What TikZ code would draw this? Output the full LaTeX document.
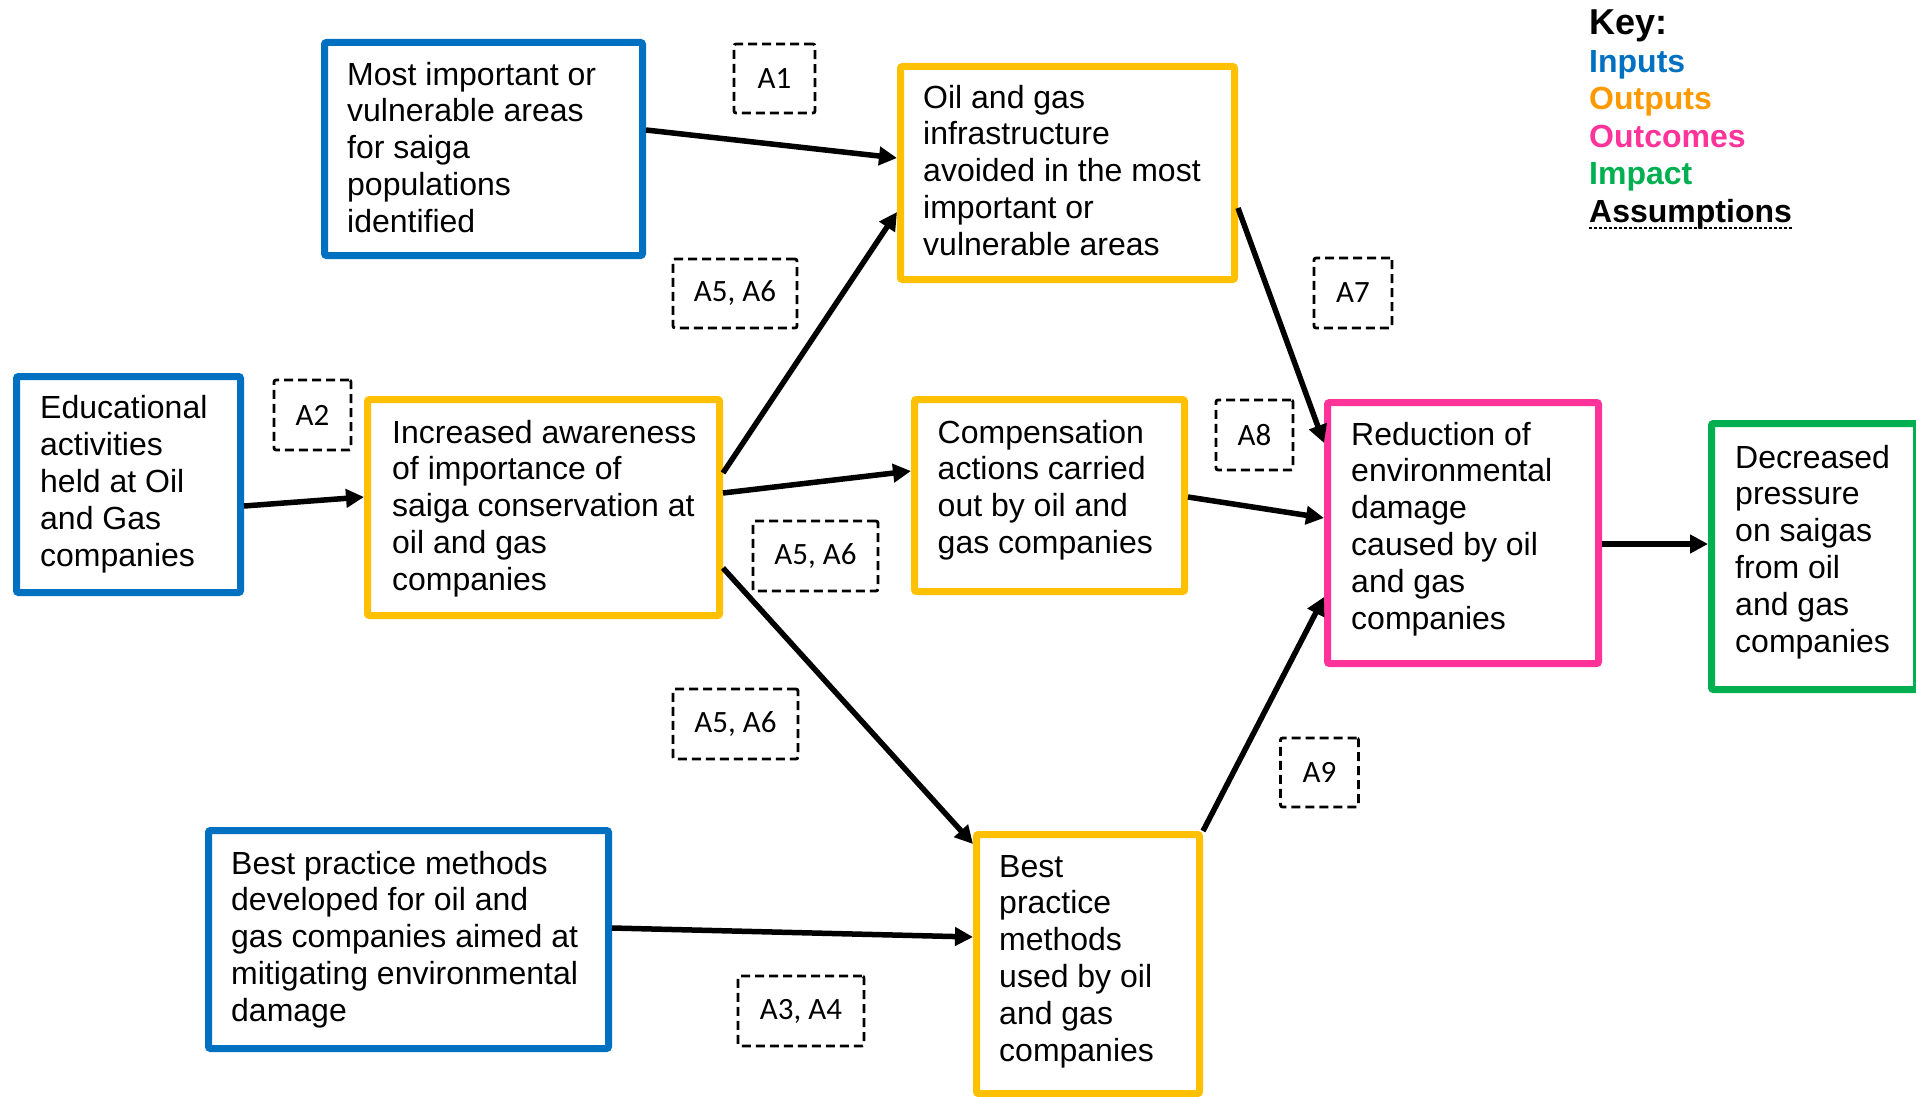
\documentclass[tikz,border=0pt]{standalone}
\usepackage{fontspec}
\setmainfont{Liberation Sans}
\newfontfamily\asmfont{Carlito}
\usetikzlibrary{arrows.meta}

\definecolor{inC}{HTML}{0070C0}
\definecolor{outC}{HTML}{FFC000}
\definecolor{outTxt}{HTML}{FF9900}
\definecolor{ocC}{HTML}{FF3399}
\definecolor{imC}{HTML}{00B050}

% multi-line text nodes are placed by the baseline of their last line
\tikzset{
  box/.style={draw, line width=7pt, rounded corners=2pt, inner sep=0pt},
  inbox/.style={box, draw=inC},
  outbox/.style={box, draw=outC},
  ocbox/.style={box, draw=ocC},
  imbox/.style={box, draw=imC},
  boxtext/.style={font=\fontsize{32}{36.8}\selectfont, align=left, inner sep=0pt, anchor=base west},
  asm/.style={draw, line width=2.8pt, dash pattern=on 9pt off 5pt, rounded corners=2pt,
    inner sep=0pt, font=\asmfont\fontsize{31}{36}\selectfont},
  keytext/.style={font=\bfseries\fontsize{32}{37}\selectfont, inner sep=0pt, anchor=base west},
  arr/.style={line width=5.5pt, -{Triangle[length=18pt, width=18pt]}},
}

\begin{document}
\begin{tikzpicture}[x=1pt, y=-1pt]
\useasboundingbox (0,0) rectangle (1916,1097);

% Inputs
\node[inbox, minimum width=318pt, minimum height=213pt] (areas) at (483.5,149) {};
\node[boxtext] (areas-t) at (347,232.2) {Most important or\\vulnerable areas\\for saiga\\populations\\identified};

\node[inbox, minimum width=224pt, minimum height=216pt] (edu) at (128.5,484.5) {};
\node[boxtext] (edu-t) at (40,566) {Educational\\activities\\held at Oil\\and Gas\\companies};

\node[inbox, minimum width=400pt, minimum height=218pt] (bpdev) at (408.5,939.5) {};
\node[boxtext] (bpdev-t) at (231,1021.2) {Best practice methods\\developed for oil and\\gas companies aimed at\\mitigating environmental\\damage};

% Outputs
\node[outbox, minimum width=334pt, minimum height=213pt] (infra) at (1067.5,173) {};
\node[boxtext] (infra-t) at (923,255.2) {Oil and gas\\infrastructure\\avoided in the most\\important or\\vulnerable areas};

\node[outbox, minimum width=352pt, minimum height=216pt] (aware) at (543.5,507.5) {};
\node[boxtext] (aware-t) at (392,590.2) {Increased awareness\\of importance of\\saiga conservation at\\oil and gas\\companies};

\node[outbox, minimum width=270pt, minimum height=192pt] (comp) at (1049.5,495.5) {};
\node[boxtext] (comp-t) at (937.5,553.4) {Compensation\\actions carried\\out by oil and\\gas companies};

\node[outbox, minimum width=223pt, minimum height=259pt] (bpuse) at (1088,964) {};
\node[boxtext] (bpuse-t) at (999,1061) {Best\\practice\\methods\\used by oil\\and gas\\companies};

% Outcome
\node[ocbox, minimum width=271pt, minimum height=261pt] (reduce) at (1463,533) {};
\node[boxtext] (reduce-t) at (1351,629) {Reduction of\\environmental\\damage\\caused by oil\\and gas\\companies};

% Impact
\node[imbox, minimum width=205pt, minimum height=266pt] (impact) at (1814,556.5) {};
\node[boxtext] (impact-t) at (1735,652) {Decreased\\pressure\\on saigas\\from oil\\and gas\\companies};

% Assumptions
\node[asm, minimum width=81pt, minimum height=69pt] (a1) at (774.5,78.5) {A1};
\node[asm, minimum width=124pt, minimum height=69pt] (a56top) at (735,293.5) {A5, A6};
\node[asm, minimum width=77pt, minimum height=70pt] (a2) at (312.5,415) {A2};
\node[asm, minimum width=125pt, minimum height=70pt] (a56mid) at (815.5,556) {A5, A6};
\node[asm, minimum width=78pt, minimum height=70pt] (a7) at (1353,293) {A7};
\node[asm, minimum width=77pt, minimum height=70pt] (a8) at (1254.5,435) {A8};
\node[asm, minimum width=125pt, minimum height=70pt] (a56low) at (735.5,724) {A5, A6};
\node[asm, minimum width=78pt, minimum height=69pt] (a9) at (1319.5,772.5) {A9};
\node[asm, minimum width=126pt, minimum height=70pt] (a34) at (801,1011) {A3, A4};

% Connectors
\draw[arr] ([yshift=19pt]areas.east) -- ([yshift=15pt]infra.west);
\draw[arr] ([yshift=34.5pt]aware.east) -- ([yshift=-39pt]infra.west);
\draw[arr] ([yshift=14.5pt]aware.east) -- ([yshift=24.5pt]comp.west);
\draw[arr] ([yshift=-60.5pt]aware.east) -- ([yshift=-13pt]bpuse.north west);
\draw[arr] ([yshift=-21.5pt]edu.east) -- ([yshift=10.5pt]aware.west);
\draw[arr] ([yshift=11.5pt]bpdev.east) -- ([yshift=27pt]bpuse.west);
\draw[arr] ([yshift=-35pt]infra.east) -- ([yshift=90pt]reduce.west);
\draw[arr] ([yshift=-1.5pt]comp.east) -- ([yshift=15pt]reduce.west);
\draw[arr] (bpuse.north east) -- ([yshift=-64pt]reduce.west);
\draw[arr] ([yshift=-11pt]reduce.east) -- ([yshift=12.5pt]impact.west);

% Key
\node[keytext, font=\bfseries\fontsize{36}{40}\selectfont] (key) at (1589,35) {Key:};
\node[keytext, text=inC] (k-in) at (1589,72.5) {Inputs};
\node[keytext, text=outTxt] (k-out) at (1589,110) {Outputs};
\node[keytext, text=ocC] (k-oc) at (1589,147) {Outcomes};
\node[keytext, text=imC] (k-im) at (1589,184.5) {Impact};
\node[keytext] (k-asm) at (1589,222) {Assumptions};
\draw[line width=2.6pt, dash pattern=on 2.6pt off 2.4pt]
  ([yshift=-6pt]k-asm.base west) -- ([yshift=-6pt]k-asm.base east);
\end{tikzpicture}
\end{document}
